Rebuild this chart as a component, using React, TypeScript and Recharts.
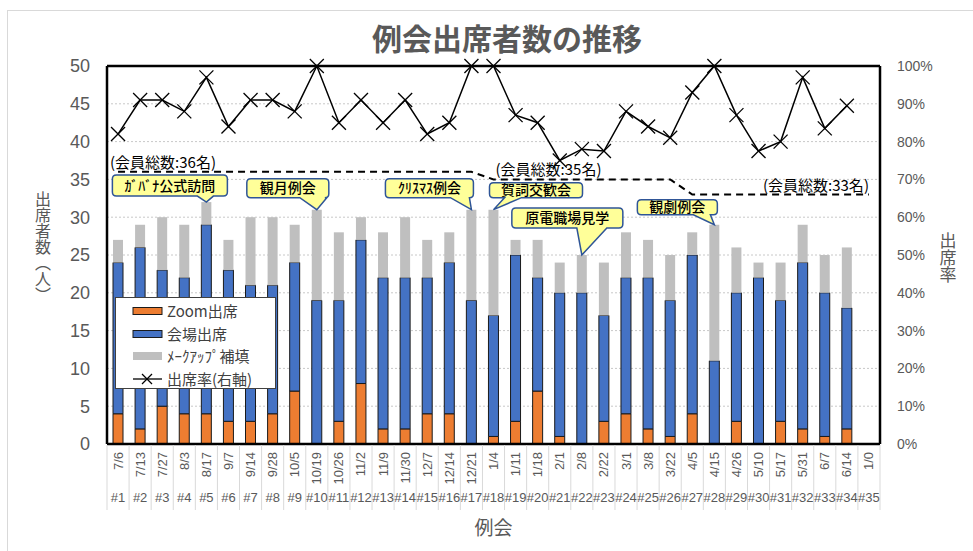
import React from "react";
import {
  ComposedChart,
  Bar,
  Line,
  XAxis,
  YAxis,
  CartesianGrid,
  Legend,
  ReferenceLine,
  ReferenceDot,
} from "recharts";

const meetingNos = [
  "#1", "#2", "#3", "#4", "#5", "#6", "#7", "#8", "#9", "#10", "#11", "#12",
  "#13", "#14", "#15", "#16", "#17", "#18", "#19", "#20", "#21", "#22", "#23",
  "#24", "#25", "#26", "#27", "#28", "#29", "#30", "#31", "#32", "#33", "#34", "#35",
];
const meetingDates = [
  "7/6", "7/13", "7/27", "8/3", "8/17", "9/7", "9/14", "9/28", "10/5", "10/19",
  "10/26", "11/2", "11/9", "11/30", "12/7", "12/14", "12/21", "1/4", "1/11",
  "1/18", "2/1", "2/8", "2/22", "3/1", "3/8", "3/22", "4/5", "4/15", "4/26",
  "5/10", "5/17", "5/31", "6/7", "6/14", "1/0",
];
const zoomAttend = [4, 2, 5, 4, 4, 3, 3, 4, 7, 0, 3, 8, 2, 2, 4, 4, 0, 1, 3, 7, 1, 0, 3, 4, 2, 1, 4, 0, 3, 0, 3, 2, 1, 2, null];
const venueAttend = [20, 24, 18, 18, 25, 20, 18, 17, 17, 19, 16, 19, 20, 20, 18, 20, 19, 16, 22, 15, 19, 20, 14, 18, 20, 18, 21, 11, 17, 22, 16, 22, 19, 16, null];
const makeupFill = [3, 3, 7, 7, 3, 4, 9, 9, 5, 12, 9, 3, 6, 8, 5, 4, 12, 14, 2, 5, 4, 5, 7, 6, 5, 6, 3, 18, 6, 2, 5, 5, 5, 8, null];
const attendRate = [82, 91, 91, 88, 97, 84, 91, 91, 88, 100, 85, 91, 85, 91, 82, 85, 100, 100, 87, 85, 75, 78, 77.5, 88, 84, 81, 93, 100, 87, 77.5, 80, 97, 83.5, 89.5, null];
const memberTotal = [
  36, 36, 36, 36, 36, 36, 36, 36, 36, 36, 36, 36, 36, 36, 36, 36, 36,
  35, 35, 35, 35, 35, 35, 35, 35, 35,
  33, 33, 33, 33, 33, 33, 33, 33, 33,
];
const leftTicks = [0, 5, 10, 15, 20, 25, 30, 35, 40, 45, 50];
const rightTicks = [0, 10, 20, 30, 40, 50, 60, 70, 80, 90, 100];

const data = meetingNos.map((no, i) => ({
  no,
  date: meetingDates[i],
  zoom: zoomAttend[i],
  venue: venueAttend[i],
  makeup: makeupFill[i],
  rate: attendRate[i],
  members: memberTotal[i],
  total: (zoomAttend[i] ?? 0) + (venueAttend[i] ?? 0) + (makeupFill[i] ?? 0),
}));

// callout boxes relative to the bar top they point at
const callouts = [
  { no: "#5", text: "ｶﾞﾊﾞﾅ公式訪問", l: -94, r: 21, t: -27, b: -6, t1: -9, t2: 7 },
  { no: "#10", text: "観月例会", l: -70, r: 12, t: -31, b: -12, t1: -17, t2: 10 },
  { no: "#17", text: "ｸﾘｽﾏｽ例会", l: -86, r: 2, t: -31, b: -12, t1: -21, t2: -2 },
  { no: "#18", text: "賀詞交歓会", l: -4, r: 89, t: -27, b: -12, t1: 11, t2: 28 },
  { no: "#22", text: "原電職場見学", l: -70, r: 41, t: -47, b: -27, t1: -5, t2: 25 },
  { no: "#28", text: "観劇例会", l: -77, r: 3, t: -25, b: -10, t1: -21, t2: -4 },
];

const memberNotes = [
  { no: "#1", value: 36, dx: -8, anchor: "start" },
  { no: "#18", value: 35, dx: 2, anchor: "start" },
  { no: "#35", value: 33, dx: 0, anchor: "end" },
];

const W = 973;
const H = 551;
const BAND = (W - 107 - 93) / meetingNos.length;
const JP = '"Noto Sans CJK JP", "Liberation Sans", sans-serif';
const NUM = '"Liberation Sans", Arial, sans-serif';
const GRAY_TEXT = "#595959";

function DateTick(props: any) {
  const { x, y, payload, index } = props;
  const i = meetingNos.indexOf(payload.value);
  return (
    <g>
      {index === 0 && (
        <line x1={x - BAND / 2} x2={x - BAND / 2} y1={y + 1} y2={y + 66} stroke="#d9d9d9" />
      )}
      <line x1={x + BAND / 2} x2={x + BAND / 2} y1={y + 1} y2={y + 66} stroke="#d9d9d9" />
      <text
        x={x + 4.5}
        y={y + 8}
        transform={`rotate(-90 ${x + 4.5} ${y + 8})`}
        textAnchor="end"
        fontSize={13}
        fontFamily={NUM}
        fill={GRAY_TEXT}
      >
        {meetingDates[i]}
      </text>
      <text x={x} y={y + 58} textAnchor="middle" fontSize={13} fontFamily={NUM} fill={GRAY_TEXT}>
        {payload.value}
      </text>
    </g>
  );
}

function XMark(props: any) {
  const { cx, cy, value } = props;
  if (value == null || cx == null || cy == null) return null;
  const s = 7;
  return (
    <g stroke="#000" strokeWidth={1.3}>
      <line x1={cx - s} y1={cy - s} x2={cx + s} y2={cy + s} />
      <line x1={cx - s} y1={cy + s} x2={cx + s} y2={cy - s} />
    </g>
  );
}

function Callout({ cx, cy, c }: any) {
  const l = cx + c.l;
  const r = cx + c.r;
  const t = cy + c.t;
  const b = cy + c.b;
  const k = 4;
  const d = [
    `M${l + k},${t}`,
    `H${r - k}`,
    `Q${r},${t} ${r},${t + k}`,
    `V${b - k}`,
    `Q${r},${b} ${r - k},${b}`,
    `H${cx + c.t2}`,
    `L${cx},${cy}`,
    `L${cx + c.t1},${b}`,
    `H${l + k}`,
    `Q${l},${b} ${l},${b - k}`,
    `V${t + k}`,
    `Q${l},${t} ${l + k},${t}`,
    "Z",
  ].join(" ");
  return (
    <g>
      <path d={d} fill="#ffff99" stroke="#2f5597" strokeWidth={1.5} />
      <text
        x={(l + r) / 2}
        y={(t + b) / 2 + 5}
        textAnchor="middle"
        fontSize={14}
        fontFamily={JP}
        fontWeight={500}
        fill="#000"
      >
        {c.text}
      </text>
    </g>
  );
}

function MemberNote({ cx, cy, n }: any) {
  return (
    <text
      x={cx + n.dx}
      y={cy - 4}
      textAnchor={n.anchor}
      fontSize={15}
      fontFamily={JP}
      fill="#000"
    >
      {`(会員総数:${n.value}名)`}
    </text>
  );
}

const legendItems = [
  { name: "Zoom出席", kind: "bar", color: "#ed7d31" },
  { name: "会場出席", kind: "bar", color: "#4472c4" },
  { name: "ﾒｰｸｱｯﾌﾟ補填", kind: "fill", color: "#bfbfbf" },
  { name: "出席率(右軸)", kind: "line", color: "#000" },
];

function LegendBox() {
  return (
    <div
      style={{
        width: 161,
        height: 92,
        background: "#fff",
        border: "1px solid #404040",
        boxSizing: "border-box",
        padding: "2px 0 0 16px",
        fontFamily: JP,
        fontSize: 15,
        color: "#404040",
      }}
    >
      {legendItems.map((it) => (
        <div key={it.name} style={{ display: "flex", alignItems: "center", height: 22.5 }}>
          <svg width={32} height={14} style={{ marginRight: 3 }}>
            {it.kind === "bar" && (
              <rect x={1} y={3.5} width={29} height={7} fill={it.color} stroke="#1a1a1a" strokeWidth={1} />
            )}
            {it.kind === "fill" && <rect x={1} y={3} width={29} height={8} fill={it.color} />}
            {it.kind === "line" && (
              <g stroke="#000" strokeWidth={1.3}>
                <line x1={1} y1={7} x2={30} y2={7} />
                <line x1={10} y1={2} x2={20} y2={12} />
                <line x1={10} y1={12} x2={20} y2={2} />
              </g>
            )}
          </svg>
          <span style={{ lineHeight: "22px", whiteSpace: "nowrap" }}>{it.name}</span>
        </div>
      ))}
    </div>
  );
}

export default function App() {
  return (
    <div style={{ position: "absolute", left: 0, top: 0, width: W, height: H, background: "#fff", overflow: "hidden" }}>
      <div
        style={{
          position: "absolute",
          left: 7,
          top: 10,
          width: W,
          height: H,
          borderTop: "1px solid #d9d9d9",
          borderLeft: "1px solid #d9d9d9",
        }}
      />
      <div
        style={{
          position: "absolute",
          left: 0,
          width: W,
          top: 20,
          textAlign: "center",
          paddingLeft: 41,
          boxSizing: "border-box",
          fontFamily: JP,
          fontSize: 30,
          lineHeight: "34px",
          fontWeight: 700,
          color: GRAY_TEXT,
        }}
      >
        例会出席者数の推移
      </div>
      <ComposedChart
        width={W}
        height={H}
        data={data}
        margin={{ top: 66, right: 23, bottom: 37, left: 37 }}
        style={{ position: "absolute", left: 0, top: 0 }}
      >
        <CartesianGrid yAxisId="left" vertical={false} stroke="#c8c8c8" strokeDasharray="2 2" />
        <XAxis
          dataKey="no"
          interval={0}
          height={70}
          tickLine={false}
          tickSize={0}
          tickMargin={0}
          axisLine={{ stroke: "#000", strokeWidth: 2.5 }}
          tick={(p: any) => <DateTick {...p} />}
          label={({ viewBox }: any) => (
            <text
              x={viewBox.x + viewBox.width / 2}
              y={viewBox.y + 91}
              textAnchor="middle"
              fontSize={19}
              fontFamily={JP}
              fill={GRAY_TEXT}
            >
              例会
            </text>
          )}
        />
        <YAxis
          yAxisId="left"
          width={70}
          domain={[0, 50]}
          ticks={leftTicks}
          interval={0}
          tickLine={false}
          tickSize={0}
          tickMargin={17}
          axisLine={{ stroke: "#000", strokeWidth: 2.5 }}
          tick={{ fontSize: 18, fill: GRAY_TEXT, fontFamily: NUM }}
          label={({ viewBox }: any) => (
            <text
              x={viewBox.x + 6}
              y={247}
              textAnchor="middle"
              fontSize={16}
              fontFamily={JP}
              fill={GRAY_TEXT}
              style={{ writingMode: "vertical-rl" } as any}
            >
              出席者数（人）
            </text>
          )}
        />
        <YAxis
          yAxisId="right"
          orientation="right"
          width={70}
          domain={[0, 100]}
          ticks={rightTicks}
          interval={0}
          tickLine={false}
          tickSize={0}
          tickMargin={17}
          axisLine={{ stroke: "#000", strokeWidth: 2.5 }}
          tickFormatter={(v) => `${v}%`}
          tick={{ fontSize: 14, fill: GRAY_TEXT, fontFamily: NUM }}
          label={({ viewBox }: any) => (
            <text
              x={viewBox.x + 68}
              y={258}
              textAnchor="middle"
              fontSize={17}
              fontFamily={JP}
              fill={GRAY_TEXT}
              style={{ writingMode: "vertical-rl" } as any}
            >
              出席率
            </text>
          )}
        />
        <Legend
          layout="vertical"
          align="center"
          verticalAlign="middle"
          wrapperStyle={{ left: 115, top: 297, width: 161 }}
          content={() => <LegendBox />}
        />
        <Bar yAxisId="left" dataKey="zoom" name="Zoom出席" stackId="a" barSize={10} fill="#ed7d31" stroke="#1a1a1a" strokeWidth={1} isAnimationActive={false} />
        <Bar yAxisId="left" dataKey="venue" name="会場出席" stackId="a" barSize={10} fill="#4472c4" stroke="#1a1a1a" strokeWidth={1} isAnimationActive={false} />
        <Bar yAxisId="left" dataKey="makeup" name="ﾒｰｸｱｯﾌﾟ補填" stackId="a" barSize={10} fill="#bfbfbf" isAnimationActive={false} />
        <ReferenceLine yAxisId="left" y={50} stroke="#000" strokeWidth={2.5} />
        <Line
          yAxisId="left"
          dataKey="members"
          type="linear"
          stroke="#000"
          strokeWidth={2}
          strokeDasharray="7 5"
          dot={false}
          activeDot={false}
          legendType="none"
          isAnimationActive={false}
        />
        <Line
          yAxisId="right"
          dataKey="rate"
          name="出席率(右軸)"
          type="linear"
          stroke="#000"
          strokeWidth={1.5}
          dot={(p: any) => <XMark key={`m${p.index}`} {...p} />}
          activeDot={false}
          isAnimationActive={false}
        />
        {memberNotes.map((n) => (
          <ReferenceDot
            key={n.no}
            yAxisId="left"
            x={n.no}
            y={n.value}
            r={0}
            shape={(p: any) => <MemberNote {...p} n={n} />}
          />
        ))}
        {callouts.map((c) => (
          <ReferenceDot
            key={c.no}
            yAxisId="left"
            x={c.no}
            y={data[meetingNos.indexOf(c.no)].total}
            r={0}
            shape={(p: any) => <Callout {...p} c={c} />}
          />
        ))}
      </ComposedChart>
    </div>
  );
}
